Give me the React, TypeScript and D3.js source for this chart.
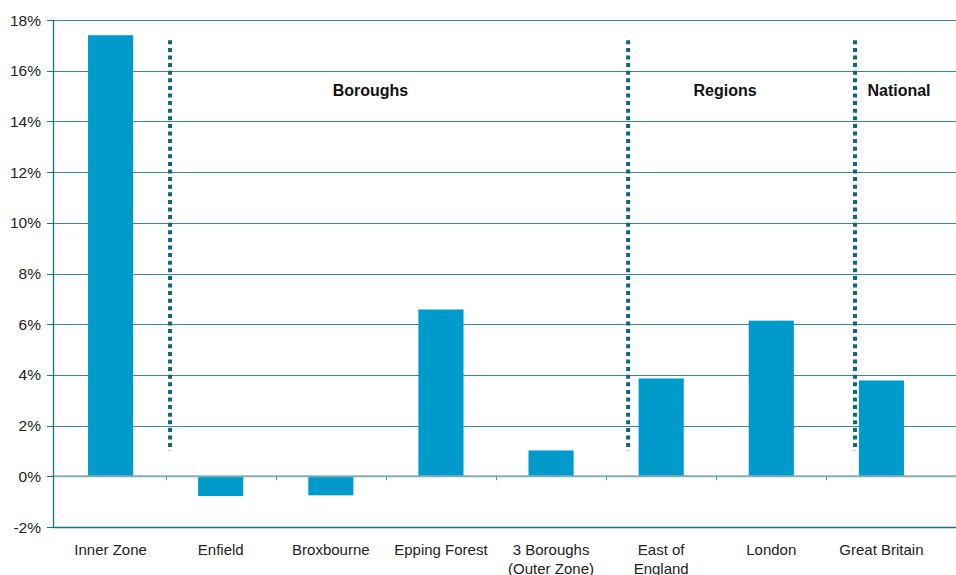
import React, { useRef, useEffect } from 'react';
import * as d3 from 'd3';

const WIDTH = 956;
const HEIGHT = 575;

const categories = ['Inner Zone', 'Enfield', 'Broxbourne', 'Epping Forest', '3 Boroughs (Outer Zone)', 'East of England', 'London', 'Great Britain'];
const categoryLines = [['Inner Zone'], ['Enfield'], ['Broxbourne'], ['Epping Forest'], ['3 Boroughs', '(Outer Zone)'], ['East of', 'England'], ['London'], ['Great Britain']];
const values = [17.4, -0.78, -0.75, 6.58, 1.02, 3.86, 6.14, 3.78];
const yTicks = [-2, 0, 2, 4, 6, 8, 10, 12, 14, 16, 18];
// divider positions in category-index units, with span in % units
const dividerPos = [0.54, 4.7, 6.76];
const dividerSpan: [number, number] = [1, 17.2];
const groupLabels = ['Boroughs', 'Regions', 'National'];
const groupLabelPos = [2.36, 5.58, 7.16];
const groupLabelValue = 15;

const AXIS = '#1f6f8b';
const BAR = '#009ACB';
const DIVIDER = '#14637c';
const FONT = 'Liberation Sans, Arial, sans-serif';

export default function App() {
  const svgRef = useRef<SVGSVGElement>(null);

  useEffect(() => {
    if (!svgRef.current) return;
    const svg = d3.select(svgRef.current);
    svg.selectAll('*').remove();

    const left = 53;
    const right = 937;
    const y = d3.scaleLinear().domain([-2, 18]).range([527, 20]);
    const x = d3.scaleBand().domain(categories).range([left + 2, right]).paddingInner(0.59).paddingOuter(0.3);
    const step = x.step();
    const c0 = (x(categories[0]) ?? 0) + x.bandwidth() / 2;
    const idx = d3.scaleLinear().domain([0, 1]).range([c0, c0 + step]);

    // gridlines
    svg.append('g')
      .selectAll('line')
      .data(yTicks.filter((t) => t !== 0 && t !== -2))
      .join('line')
      .attr('x1', left)
      .attr('x2', WIDTH)
      .attr('y1', (d) => Math.round(y(d)) + 0.5)
      .attr('y2', (d) => Math.round(y(d)) + 0.5)
      .attr('stroke', '#3b87a1')
      .attr('stroke-width', 1);

    // bottom line
    svg.append('line')
      .attr('x1', left).attr('x2', WIDTH)
      .attr('y1', Math.round(y(-2)) + 0.5).attr('y2', Math.round(y(-2)) + 0.5)
      .attr('stroke', AXIS).attr('stroke-width', 1.3);

    // y tick marks & labels
    const yg = svg.append('g');
    yg.selectAll('line')
      .data(yTicks)
      .join('line')
      .attr('x1', left - 6).attr('x2', left)
      .attr('y1', (d) => Math.round(y(d)) + 0.5).attr('y2', (d) => Math.round(y(d)) + 0.5)
      .attr('stroke', AXIS);
    yg.selectAll('text')
      .data(yTicks)
      .join('text')
      .attr('x', left - 12)
      .attr('y', (d) => y(d) + 5.5)
      .attr('text-anchor', 'end')
      .attr('font-size', '15.5px')
      .attr('font-family', FONT)
      .attr('fill', '#222')
      .text((d) => `${d}%`);

    // bars
    svg.append('g')
      .selectAll('rect')
      .data(values)
      .join('rect')
      .attr('x', (_, i) => x(categories[i]) ?? 0)
      .attr('width', x.bandwidth())
      .attr('y', (d) => y(Math.max(0, d)))
      .attr('height', (d) => Math.abs(y(d) - y(0)))
      .attr('fill', BAR);

    // zero line
    svg.append('line')
      .attr('x1', left).attr('x2', WIDTH)
      .attr('y1', y(0)).attr('y2', y(0))
      .attr('stroke', '#7fb0c0').attr('stroke-width', 2);

    // category ticks
    svg.append('g')
      .selectAll('line')
      .data(categories.slice(1))
      .join('line')
      .attr('x1', (d) => Math.round((x(d) ?? 0) - (step - x.bandwidth()) / 2) + 0.5)
      .attr('x2', (d) => Math.round((x(d) ?? 0) - (step - x.bandwidth()) / 2) + 0.5)
      .attr('y1', y(0)).attr('y2', y(0) + 4)
      .attr('stroke', '#5a96aa');

    // y axis
    svg.append('line')
      .attr('x1', left + 0.5).attr('x2', left + 0.5)
      .attr('y1', y(18)).attr('y2', y(-2) + 1)
      .attr('stroke', AXIS).attr('stroke-width', 1.3);

    // category labels
    const cl = svg.append('g')
      .selectAll('text')
      .data(categories)
      .join('text')
      .attr('x', (d) => (x(d) ?? 0) + x.bandwidth() / 2)
      .attr('y', 555)
      .attr('text-anchor', 'middle')
      .attr('font-size', '15px')
      .attr('font-family', FONT)
      .attr('fill', '#222');
    cl.each(function (_, i) {
      const t = d3.select(this);
      categoryLines[i].forEach((line, j) => {
        t.append('tspan')
          .attr('x', t.attr('x'))
          .attr('dy', j === 0 ? 0 : 19)
          .text(line);
      });
    });

    // dividers
    svg.append('g')
      .selectAll('line')
      .data(dividerPos)
      .join('line')
      .attr('x1', (d) => idx(d)).attr('x2', (d) => idx(d))
      .attr('y1', y(dividerSpan[1])).attr('y2', y(dividerSpan[0]))
      .attr('stroke', DIVIDER)
      .attr('stroke-width', 4)
      .attr('stroke-dasharray', '4,3.6');

    // group labels
    svg.append('g')
      .selectAll('text')
      .data(groupLabels)
      .join('text')
      .attr('x', (_, i) => idx(groupLabelPos[i]))
      .attr('y', y(groupLabelValue))
      .attr('text-anchor', 'middle')
      .attr('font-size', '16px')
      .attr('font-weight', 'bold')
      .attr('font-family', FONT)
      .attr('fill', '#111')
      .text((d) => d);
  }, []);

  return (
    <svg
      ref={svgRef}
      width={WIDTH}
      height={HEIGHT}
      style={{ position: 'absolute', left: 0, top: 0, background: '#fff' }}
    />
  );
}
